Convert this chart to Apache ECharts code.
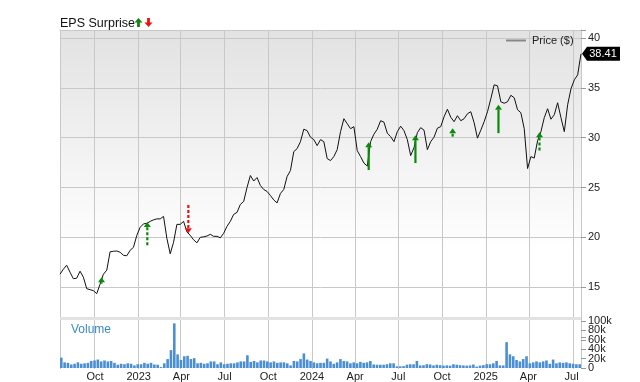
<!DOCTYPE html>
<html>
<head>
<meta charset="utf-8">
<script src="https://cdn.jsdelivr.net/npm/echarts@6/dist/echarts.min.js"></script>
<style>
html,body{margin:0;padding:0;background:#fff;}
#chart{width:640px;height:382px;}
</style>
</head>
<body>
<div id="chart"></div>
<script>
// Weekly observations starting 2022-07-22
var startYear = 2022, startMonth = 6, startDay = 22;
var prices = [16.3,16.8,17.2,16.5,15.85,15.9,16.6,16.0,14.85,14.75,
 14.65,14.35,15.3,16.3,16.7,18.55,18.6,18.63,18.5,18.2,
 18.15,18.7,19.0,20.2,21.0,21.35,21.4,21.6,21.75,21.85,
 21.85,22.1,19.9,18.35,19.5,21.3,21.3,21.6,20.55,20.2,
 19.75,19.45,20.0,20.05,20.13,20.3,20.1,20.1,19.95,20.4,
 21.1,21.6,22.3,22.5,23.3,23.6,25.0,26.2,25.65,26.0,
 25.2,24.8,24.6,24.2,23.75,23.45,24.4,24.8,26.1,26.7,
 28.6,28.9,29.6,30.85,30.7,30.05,29.8,29.2,29.8,29.6,
 27.9,27.7,28.1,28.8,30.6,31.9,31.4,30.9,31.1,28.7,
 28.1,27.45,27.15,29.6,30.35,30.85,31.7,31.55,30.45,30.1,
 29.6,30.6,31.15,30.7,29.8,28.2,29.0,30.5,31.0,30.75,
 28.8,29.6,30.05,30.95,31.1,32.1,32.85,32.05,31.6,32.2,
 31.7,31.9,32.4,32.6,31.5,29.95,30.75,31.6,32.6,33.9,
 35.3,35.2,33.6,33.45,33.6,34.25,34.0,32.8,32.5,30.9,
 26.9,28.1,27.95,29.7,30.6,32.0,32.9,31.85,32.3,33.5,
 32.0,30.6,33.3,34.9,35.8,36.3,38.41];
// volume in thousands
var volumesK = [22,12,11,7.5,9,12,9,10,11,15, 16,18,14,16,14,15,11,7,9,8, 10,9,5.5,8,8,11,9,11,7.5,7, 2,10,19,38,95,29,17,25,26,19, 21,10,11,9,10,14,14,8,12,8, 9,10,
 10,12,14,14,27,13,15,12,16,16, 14,12,14,11,12,12,10,5.5,15,14, 19,31,18,15,12,10,11,11,20,14, 9,12,19,15,14,10,12,10,13,11, 12,15,7.5,7,7,7,8,10,10,3.5, 3.5,4,7,8,8,15,5.5,6,8,7.5, 5.5,7,
 6,5,5.5,5,8,7,6,5.5,5,5.5, 7.5,3,5,6,8,8,10,15,5.5,5.5, 55,29,25,17,14,19,25,10,12,14, 12,14,16,9,18,10,12,11,12,10, 9,8,8];
// EPS surprise arrows: date, from price, to price, dashed (1) / solid (0)
var epsDates = ['2022-10-17','2023-01-21','2023-04-17','2024-04-29','2024-08-05','2024-10-22','2025-01-26','2025-04-22'];
var epsFrom  = [15.35, 19.2, 23.25, 26.75, 27.45, 30.1, 30.45, 28.7];
var epsTo    = [16.0, 21.55, 20.4, 29.55, 30.25, 30.95, 33.3, 30.55];
var epsDashed = [0, 1, 1, 0, 0, 1, 0, 1];
var priceTicks = [15, 20, 25, 30, 35, 40];
var volumeTicksA = [0, 40000, 80000];
var volumeTicksB = [20000, 60000, 100000];
var lastPriceLabel = '38.41';

var dates = [];
for (var i = 0; i < prices.length; i++) {
  dates.push(new Date(startYear, startMonth, startDay + 7 * i).getTime());
}
var priceData = dates.map(function (d, i) { return [d, prices[i]]; });
var volData = dates.map(function (d, i) { return [d, volumesK[i] * 1000]; });
var epsData = epsDates.map(function (d, i) {
  var p = d.split('-');
  return [new Date(+p[0], +p[1] - 1, +p[2]).getTime(), epsFrom[i], epsTo[i], epsDashed[i]];
});
var monthNames = ['Jan','Feb','Mar','Apr','May','Jun','Jul','Aug','Sep','Oct','Nov','Dec'];
function fmtDate(v) {
  var d = new Date(v);
  return d.getMonth() === 0 ? String(d.getFullYear()) : monthNames[d.getMonth()];
}
function fmtVol(list) {
  return function (v) { return list.indexOf(v) < 0 ? '' : (v === 0 ? '0' : (v / 1000) + 'k'); };
}
var FONT = 'Liberation Sans, Arial, Helvetica, sans-serif';
var xMin = dates[0], xMax = dates[dates.length - 1];
var DAY = 86400000;
var GRID = '#c8c8c8';

function volAxis(list) {
  return {type: 'value', gridIndex: 1, position: 'right', min: 0, max: 100000, interval: 20000,
     axisLine: {show: true, lineStyle: {color: GRID}},
     axisTick: {show: true, length: 5, lineStyle: {color: '#999'}},
     axisLabel: {color: '#222', fontSize: 11, margin: 7, fontFamily: FONT,
                 showMinLabel: true, showMaxLabel: true, hideOverlap: false, formatter: fmtVol(list)},
     splitLine: {show: false}};
}

var chart = echarts.init(document.getElementById('chart'), null, {renderer: 'canvas'});
var option = {
  animation: false,
  textStyle: {fontFamily: FONT},
  title: [
    {text: 'EPS Surprise', left: 60, top: 17, padding: 0,
     textStyle: {fontSize: 12.5, fontWeight: 'normal', color: '#111', fontFamily: FONT}},
    {text: 'Volume', left: 71, top: 324, padding: 0,
     textStyle: {fontSize: 12, fontWeight: 'normal', color: '#3b89cc', fontFamily: FONT}}
  ],
  legend: {
    data: ['Price ($)'], left: 506, top: 35, padding: 0, itemGap: 5,
    icon: 'rect', itemWidth: 20, itemHeight: 2,
    itemStyle: {color: '#888'},
    textStyle: {fontSize: 11, color: '#222', fontFamily: FONT, padding: [0, 0, 0, 1]}
  },
  graphic: [
    {type: 'polygon', shape: {points: [[138.5,18],[134.5,22.5],[137.1,22.5],[137.1,27],[139.9,27],[139.9,22.5],[142.5,22.5]]}, style: {fill: '#0a8a0a'}},
    {type: 'polygon', shape: {points: [[148.5,27],[144.5,22.5],[147.1,22.5],[147.1,18],[149.9,18],[149.9,22.5],[152.5,22.5]]}, style: {fill: '#ee1111'}},
    {type: 'rect', shape: {x: 60, y: 317, width: 521, height: 3}, style: {fill: '#e2e2e2'}, z: 10}
  ],
  grid: [
    {left: 60, right: 59, top: 30, bottom: 45, show: true, borderWidth: 0,
     backgroundColor: new echarts.graphic.LinearGradient(0, 0, 0, 1, [
       {offset: 0, color: '#e2e2e2'}, {offset: 0.72, color: '#ffffff'}, {offset: 1, color: '#ffffff'}])},
    {left: 60, right: 59, top: 321, bottom: 13},
    {left: 60, right: 59, top: 30, bottom: 13}
  ],
  xAxis: [
    {type: 'time', gridIndex: 0, position: 'top', min: xMin, max: xMax,
     minInterval: 80 * DAY, maxInterval: 100 * DAY,
     axisLine: {show: true, lineStyle: {color: GRID}},
     axisTick: {show: false}, axisLabel: {show: false}, splitLine: {show: false}},
    {type: 'time', gridIndex: 1, min: xMin, max: xMax,
     minInterval: 80 * DAY, maxInterval: 100 * DAY,
     axisLine: {show: false}, axisTick: {show: false},
     axisLabel: {formatter: fmtDate, color: '#222', fontSize: 11, margin: 3,
                 showMinLabel: false, showMaxLabel: false, fontFamily: FONT},
     splitLine: {show: false}},
    {type: 'time', gridIndex: 2, min: xMin, max: xMax,
     minInterval: 80 * DAY, maxInterval: 100 * DAY,
     axisLine: {show: false}, axisTick: {show: false}, axisLabel: {show: false},
     splitLine: {show: true, lineStyle: {color: GRID, width: 1}}}
  ],
  yAxis: [
    {type: 'value', gridIndex: 0, position: 'right', min: 10, max: 40.8, interval: 5,
     axisLine: {show: true, lineStyle: {color: GRID}},
     axisTick: {show: true, length: 5, lineStyle: {color: '#999'}},
     axisLabel: {color: '#222', fontSize: 11, margin: 7, fontFamily: FONT, showMinLabel: true, showMaxLabel: true,
                 formatter: function (v) { return priceTicks.indexOf(v) >= 0 ? String(v) : ''; }},
     splitLine: {show: true, lineStyle: {color: ['rgba(0,0,0,0)',GRID,GRID,GRID,GRID,GRID,GRID,GRID,GRID]}}},
    {type: 'value', gridIndex: 0, position: 'left', min: 10, max: 40.8,
     axisLine: {show: true, lineStyle: {color: GRID}},
     axisTick: {show: false}, axisLabel: {show: false}, splitLine: {show: false}},
    volAxis(volumeTicksA),
    {type: 'value', gridIndex: 1, position: 'left', min: 0, max: 100000,
     axisLine: {show: true, lineStyle: {color: GRID}},
     axisTick: {show: false}, axisLabel: {show: false}, splitLine: {show: false}},
    {type: 'value', gridIndex: 2, show: false, min: 0, max: 1},
    volAxis(volumeTicksB)
  ],
  series: [
    {name: 'Price ($)', type: 'line', xAxisIndex: 0, yAxisIndex: 0, data: priceData,
     showSymbol: false, symbol: 'none', lineStyle: {color: '#111', width: 1}, itemStyle: {color: '#888'},
     z: 3,
     markPoint: {
       symbol: 'path://M0,7 L5,0 L38,0 L38,14 L5,14 Z', symbolSize: [38, 14], symbolOffset: [20, 0],
       itemStyle: {color: '#000'},
       label: {show: true, color: '#fff', fontSize: 11, fontFamily: FONT, offset: [2, 0], formatter: function (p) { return p.name; }},
       data: [{name: lastPriceLabel, coord: [xMax, prices[prices.length - 1]]}]
     }},
    {name: 'Volume', type: 'bar', xAxisIndex: 1, yAxisIndex: 2, data: volData,
     barWidth: 2.6, itemStyle: {color: '#4a8fd3'}, z: 4},
    {name: 'EPS', type: 'custom', xAxisIndex: 0, yAxisIndex: 0, data: epsData, z: 5,
     encode: {x: 0, y: [1, 2]},
     renderItem: function (params, api) {
       var a = api.coord([api.value(0), api.value(1)]);
       var b = api.coord([api.value(0), api.value(2)]);
       var up = api.value(2) > api.value(1);
       var color = up ? '#0a8a0a' : '#ee1111';
       var dashed = api.value(3) === 1;
       var headH = 5, headW = 3.5;
       var baseY = up ? b[1] + headH : b[1] - headH;
       return {type: 'group', children: [
         {type: 'line', shape: {x1: a[0], y1: a[1], x2: a[0], y2: baseY},
          style: {stroke: color, lineWidth: 2.2, lineDash: dashed ? [3, 2] : null}},
         {type: 'polygon', shape: {points: [[b[0], b[1]], [b[0] - headW, baseY], [b[0] + headW, baseY]]},
          style: {fill: color}}
       ]};
     }}
  ]
};
chart.setOption(option);
</script>
</body>
</html>
